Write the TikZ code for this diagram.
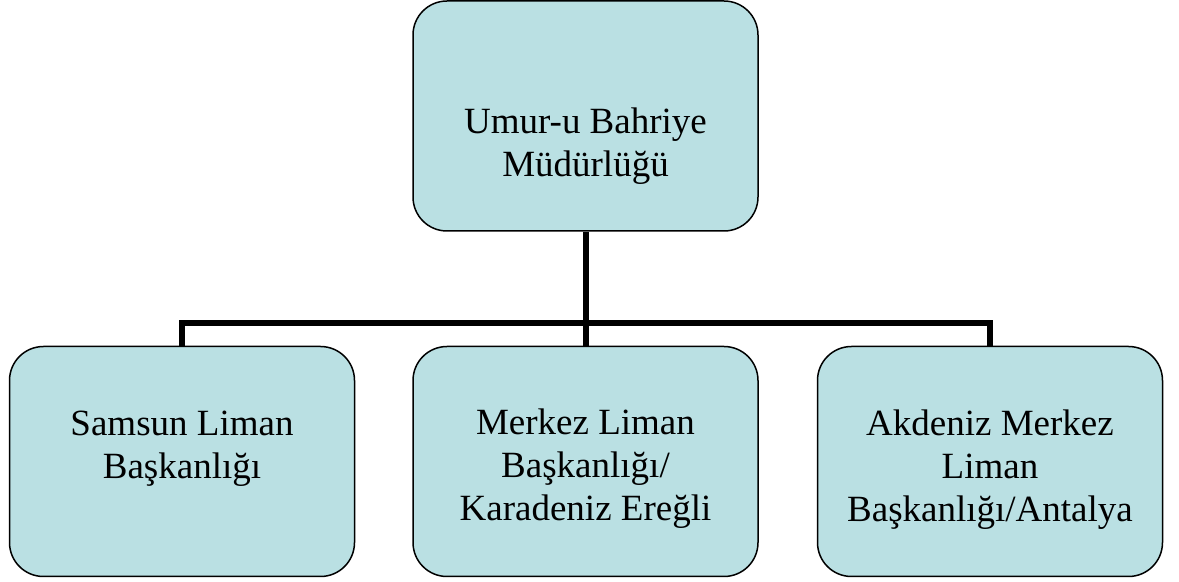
\documentclass[tikz,border=0pt]{standalone}
\usepackage{fontspec}
\setmainfont{Liberation Serif}
\usetikzlibrary{positioning,calc}
\definecolor{kutumavi}{RGB}{186,224,227}
\begin{document}
\begin{tikzpicture}[x=0.5pt,y=-0.5pt,
		kutu/.style={draw, rounded corners=17pt, fill=kutumavi, line width=0.75pt, minimum width=172.5pt, minimum height=115pt, inner sep=0pt},
		yazi/.style={align=center, inner sep=0pt, font=\fontsize{18.5}{21.5}\selectfont},
		baglanti/.style={line width=3pt}]
			\useasboundingbox (0,0) rectangle (1179,582);
			\node[kutu] (mudurluk) at (585.5,116) {};
			\node[kutu] (samsun) at (182,461.5) {};
			\node[kutu] (merkez) at (585.5,461.5) {};
			\node[kutu] (akdeniz) at (990,461.5) {};
			\coordinate (dal) at ($ (mudurluk.south) +(0,91) $);
			\draw[baglanti] (mudurluk.south) -- (dal);
			\draw[baglanti] (samsun.north) |- (dal) -| (akdeniz.north);
			\draw[baglanti] (dal) -- (merkez.north);
			\node[yazi] (mudurlukyazi) at ($ (mudurluk) +(0,30) $) {Umur-u Bahriye\\ Müdürlüğü};
			\node[yazi] (samsunyazi) at ($ (samsun) -(0,13) $) {Samsun Liman\\ Başkanlığı};
			\node[yazi] (merkezyazi) at ($ (merkez) +(0,7) $) {Merkez Liman\\ Başkanlığı/\\ Karadeniz Ereğli};
			\node[yazi] (akdenizyazi) at ($ (akdeniz) +(0,8) $) {Akdeniz Merkez\\ Liman\\ Başkanlığı/Antalya};
		\end{tikzpicture}
\end{document}
